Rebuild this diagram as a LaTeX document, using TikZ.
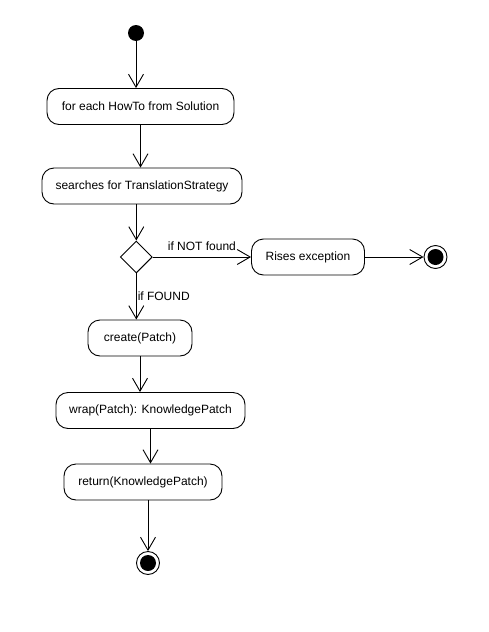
\documentclass[tikz,border=0pt]{standalone}
\usepackage{fontspec}
\setmainfont{Liberation Sans}
\usetikzlibrary{arrows.meta,shapes.geometric}
\begin{document}
\begin{tikzpicture}[x=1pt,y=-1pt,line width=0.9pt,
			action/.style={draw,rounded corners=12pt,minimum height=36pt,inner sep=0pt,font=\fontsize{12}{14}\selectfont},
			flow/.style={-{Straight Barb[length=13pt,width=15pt]}},
			lbl/.style={font=\fontsize{12}{14}\selectfont,inner sep=0pt},
			finish/.style={circle,draw,minimum size=23pt,inner sep=0pt,path picture={\fill (path picture bounding box.center) circle (8pt);}}]
			\useasboundingbox (0,0) rectangle (488,632);
			\node[circle,fill,inner sep=0pt,minimum size=16pt] (start) at (136,33) {};
			\node[action,minimum width=187pt] (howto) at (140.5,106.5) {for each HowTo from Solution};
			\node[action,minimum width=200pt] (search) at (142,186) {searches for TranslationStrategy};
			\node[diamond,draw,inner sep=0pt,minimum size=32pt] (choice) at (136.3,257) {};
			\node[action,minimum width=113pt] (raise) at (308,257) {Rises exception};
			\node[finish] (stopA) at (435.5,257) {};
			\node[action,minimum width=104pt] (create) at (140,338) {create(Patch)};
			\node[action,minimum width=189pt] (wrap) at (150.5,410.5) {wrap(Patch): KnowledgePatch};
			\node[action,minimum width=158pt] (ret) at (143,482) {return(KnowledgePatch)};
			\node[finish] (stopB) at (148,563) {};
			\draw[flow] (start)--(start |- howto.north);
			\draw[flow] (howto)--(howto |- search.north);
			\draw[flow] (search.south -| choice)--(choice.north);
			\draw[flow] (choice.east)--(raise.west) node[lbl,midway,above=6pt]{if NOT found};
			\draw[flow] (raise)--(stopA);
			\draw[flow] (choice.south)--(choice |- create.north) node[lbl,midway,right=1pt]{if FOUND};
			\draw[flow] (create)--(create |- wrap.north);
			\draw[flow] (wrap)--(wrap |- ret.north);
			\draw[flow] (stopB |- ret.south)--(stopB);
		\end{tikzpicture}
\end{document}
